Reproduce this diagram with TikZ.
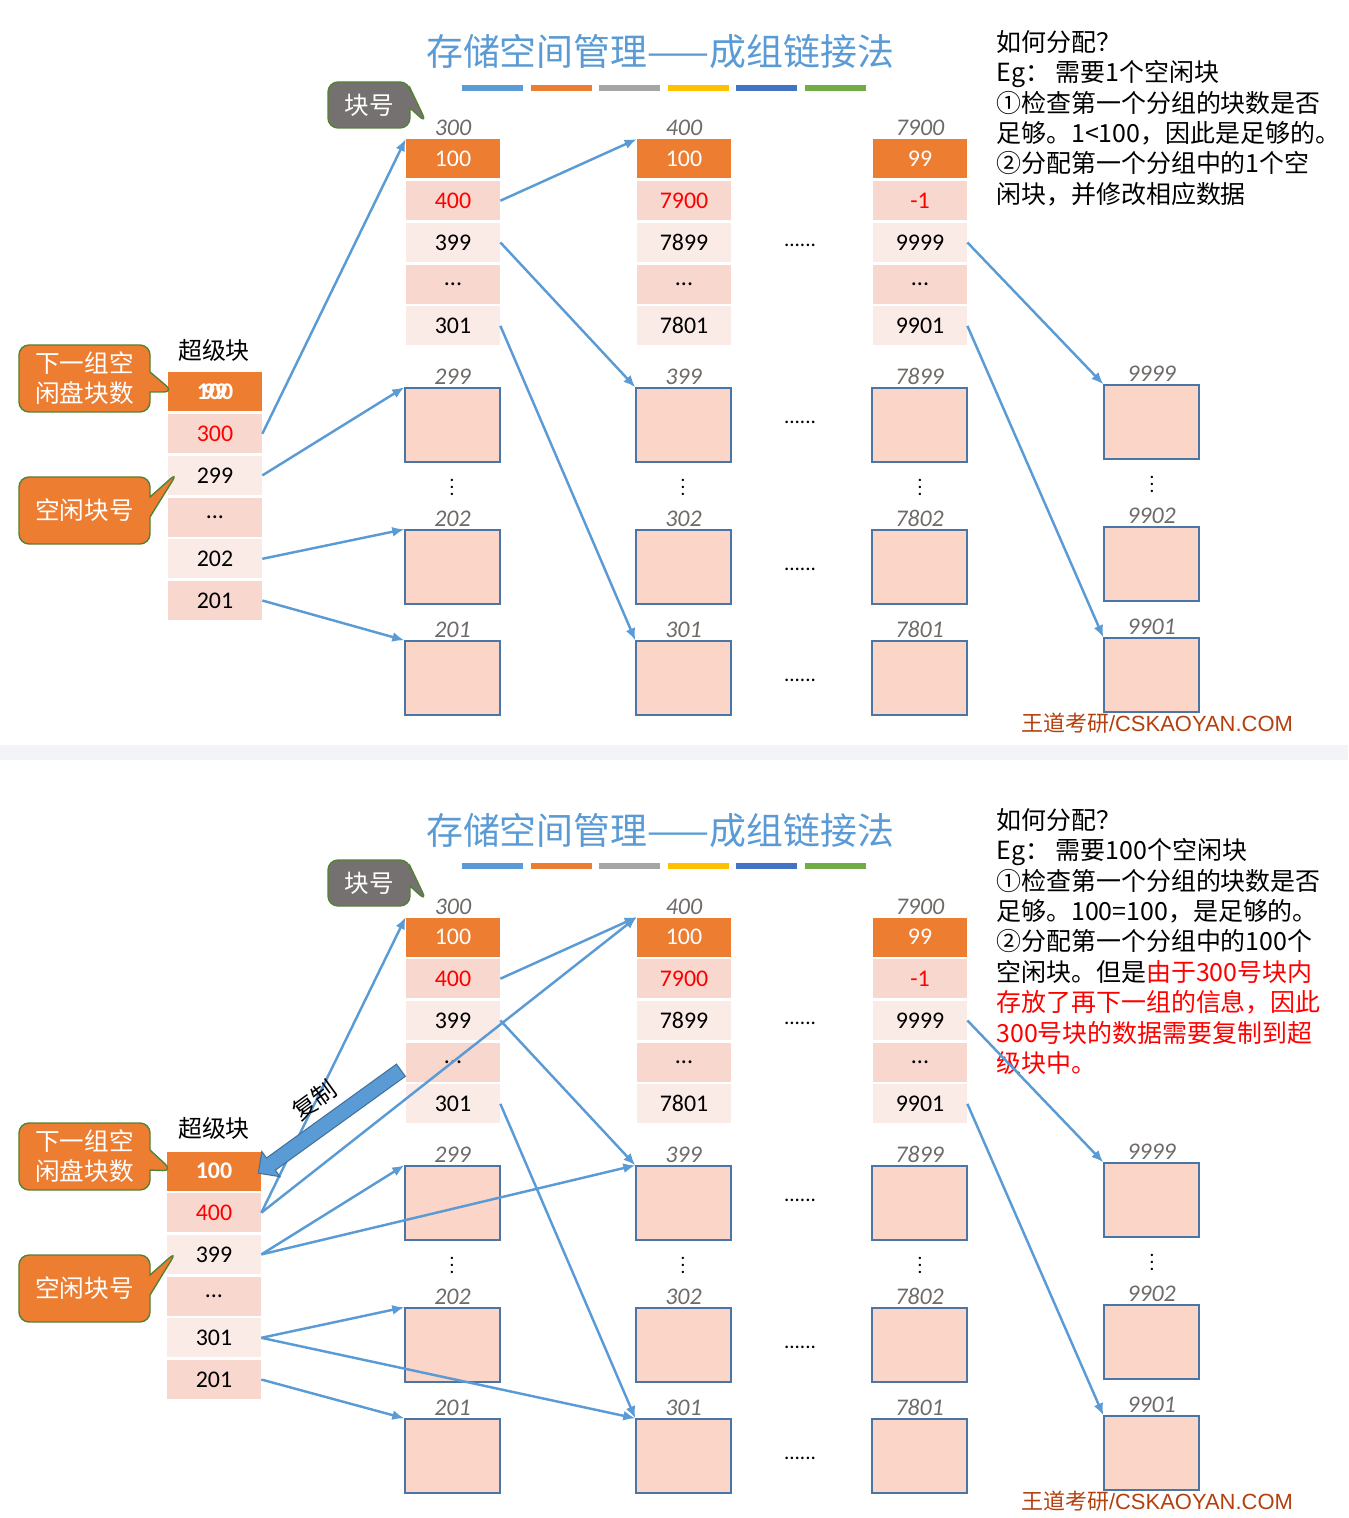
\documentclass[tikz,border=0pt]{standalone}
\usepackage{fontspec}
\setmainfont{Carlito}
\newfontfamily\cjk{Noto Sans CJK SC}
\newfontfamily\arialfont{Liberation Sans}
\usetikzlibrary{positioning, calc, arrows.meta, shapes.callouts, shapes.arrows}
\definecolor{HdrOrange} {HTML}{ED7D31}
\definecolor{CellDark}  {HTML}{F7D7CE}
\definecolor{CellLight} {HTML}{FBEBE7}
\definecolor{BlkFill}   {HTML}{FAD5C8}
\definecolor{BlkEdge}   {HTML}{4A76A6}
\definecolor{LinkBlue}  {HTML}{5B9BD5}
\definecolor{CopyEdge}  {HTML}{41719C}
\definecolor{LblGray}   {HTML}{6E6A68}
\definecolor{BarBlue}   {HTML}{5B9BD5}
\definecolor{BarOrange} {HTML}{ED7D31}
\definecolor{BarGray}   {HTML}{A5A5A5}
\definecolor{BarGold}   {HTML}{FFC000}
\definecolor{BarNavy}   {HTML}{4472C4}
\definecolor{BarGreen}  {HTML}{70AD47}
\definecolor{TipGray}   {HTML}{767171}
\definecolor{TipEdge}   {HTML}{548235}
\definecolor{MarkRed}   {HTML}{FF0000}
\definecolor{SiteRed}   {HTML}{B4400E}
\definecolor{BandGray}  {HTML}{F3F4F8}
\tikzset{
  every node/.style={font=\fontsize{13.6}{16}\selectfont},
  % table cells of a group block
  cell/.style={minimum width=18.8mm, minimum height=7.8mm, inner sep=0pt},
  hdrcell/.style  ={cell, fill=HdrOrange, text=white},
  darkcell/.style ={cell, fill=CellDark},
  lightcell/.style={cell, fill=CellLight},
  freeblk/.style={draw=BlkEdge, fill=BlkFill, line width=0.8pt,
                  minimum width=19mm, minimum height=14.8mm, inner sep=0pt},
  numlbl/.style={font=\fontsize{13.6}{16}\selectfont\itshape, text=LblGray, inner sep=1.5pt},
  vdot/.style={font=\fontsize{9}{10}\selectfont\bfseries, inner sep=0pt},
  gapdots/.style={font=\fontsize{12}{14}\selectfont},
  title/.style={font=\cjk\fontsize{21}{25}\selectfont, text=LinkBlue},
  link/.style={draw=LinkBlue, line width=1.4pt, -{Latex[length=2.4mm,width=2mm]}},
  tip/.style={rectangle callout, rounded corners=2mm, draw=TipEdge, line width=0.8pt,
              text=white, align=center, inner sep=1pt, callout pointer width=4mm,
              font=\cjk\fontsize{14}{17}\selectfont},
  note/.style={anchor=north west, align=left, inner sep=0pt,
               font=\cjk\fontsize{14.2}{17.3}\selectfont},
  copyarrow/.style={single arrow, draw=CopyEdge, fill=LinkBlue, line width=0.6pt,
                    inner xsep=0pt, inner ysep=1.4mm, single arrow head extend=1.6mm,
                    single arrow head indent=0pt},
}

% everything that both halves share
\newcommand{\grouppanel}[1]{%
  \node[title] (#1title) at (660,52) {存储空间管理——成组链接法};
  \foreach \barcol [count=\i from 0] in {BarBlue,BarOrange,BarGray,BarGold,BarNavy,BarGreen}
    \fill[\barcol] ({462+\i*68.6},85) rectangle ++(61,6);
  % group 300
  \node[hdrcell] (#1a1) at (453,159) {100};
  \node[darkcell,  below=0.4mm of #1a1, text=MarkRed] (#1a2) {400};
  \node[lightcell, below=0.4mm of #1a2] (#1a3) {399};
  \node[darkcell,  below=0.4mm of #1a3] (#1a4) {...};
  \node[lightcell, below=0.4mm of #1a4] (#1a5) {301};
  \node[numlbl, above=0pt of #1a1] (#1a0) {300};
  % group 400
  \node[hdrcell] (#1b1) at (684,159) {100};
  \node[darkcell,  below=0.4mm of #1b1, text=MarkRed] (#1b2) {7900};
  \node[lightcell, below=0.4mm of #1b2] (#1b3) {7899};
  \node[darkcell,  below=0.4mm of #1b3] (#1b4) {...};
  \node[lightcell, below=0.4mm of #1b4] (#1b5) {7801};
  \node[numlbl, above=0pt of #1b1] (#1b0) {400};
  % group 7900
  \node[hdrcell] (#1c1) at (920,159) {99};
  \node[darkcell,  below=0.4mm of #1c1, text=MarkRed] (#1c2) {-1};
  \node[lightcell, below=0.4mm of #1c2] (#1c3) {9999};
  \node[darkcell,  below=0.4mm of #1c3] (#1c4) {...};
  \node[lightcell, below=0.4mm of #1c4] (#1c5) {9901};
  \node[numlbl, above=0pt of #1c1] (#1c0) {7900};
  % free blocks
  \foreach \nm/\x/\y/\txt in {p1/452.5/425/299, p2/452.5/567/202, p3/452.5/678/201,
                              q1/683.5/425/399, q2/683.5/567/302, q3/683.5/678/301,
                              r1/919.5/425/7899, r2/919.5/567/7802, r3/919.5/678/7801,
                              u1/1151.5/422/9999, u2/1151.5/564/9902, u3/1151.5/675/9901}{
    \node[freeblk] (#1\nm) at (\x,\y) {};
    \node[numlbl, above=0pt of #1\nm] (#1\nm l) {\txt};
  }
  \node[vdot] (#1pv) at (452,482) {$\vdots$};
  \node[vdot] (#1qv) at (683,482) {$\vdots$};
  \node[vdot] (#1rv) at (920,482) {$\vdots$};
  \node[vdot] (#1uv) at (1152,479) {$\vdots$};
  \node[gapdots] (#1g1) at (800,245) {......};
  \node[gapdots] (#1g2) at (800,422) {......};
  \node[gapdots] (#1g3) at (800,569) {......};
  \node[gapdots] (#1g4) at (800,680) {......};
  \node[font=\fontsize{12.5}{15}\selectfont, text=SiteRed] (#1site) at (1157,723)
    {{\cjk 王道考研}{\arialfont /CSKAOYAN.COM}};
}

\begin{document}
\begin{tikzpicture}[x=0.2mm, y=-0.2mm]
\useasboundingbox (0,0) rectangle (1348,1518);

% ---- first half: one block wanted
\begin{scope}
\grouppanel{t-}
\node[font=\cjk\fontsize{13.6}{16}\selectfont] (t-sbl) at (214,350) {超级块};
\node[hdrcell, font=\fontsize{13.6}{16}\selectfont\bfseries] (t-s1) at (215,392)
  {\makebox[0pt]{100}\makebox[0pt]{99}};
\node[darkcell,  below=0.4mm of t-s1, text=MarkRed] (t-s2) {300};
\node[lightcell, below=0.4mm of t-s2] (t-s3) {299};
\node[darkcell,  below=0.4mm of t-s3] (t-s4) {...};
\node[lightcell, below=0.4mm of t-s4] (t-s5) {202};
\node[darkcell,  below=0.4mm of t-s5] (t-s6) {201};

\node[tip, fill=HdrOrange, minimum width=26.2mm, minimum height=13.4mm,
      callout absolute pointer={([xshift=1.2mm]t-s1.west)}] (t-next) at (84.5,378.5)
  {下一组空\\闲盘块数};
\node[tip, fill=HdrOrange, minimum width=26.2mm, minimum height=13.4mm,
      callout absolute pointer={([xshift=2mm,yshift=0.6mm]t-s3.west)}] (t-free) at (84.5,510.5)
  {空闲块号};
\node[tip, fill=TipGray, minimum width=16.4mm, minimum height=9.2mm,
      callout absolute pointer={([xshift=-1mm,yshift=1mm]t-a0.west)}] (t-blkno) at (369,105)
  {块号};

\node[note] (t-how) at (996,30) {如何分配？\\
Eg： 需要1个空闲块\\
①检查第一个分组的块数是否\\
足够。1<100，因此是足够的。\\
②分配第一个分组中的1个空\\
闲块，并修改相应数据};
\end{scope}

\fill[BandGray] (0,745) rectangle (1348,760);

% ---- second half: a hundred blocks wanted
\begin{scope}[shift={(0,778)}]
\grouppanel{b-}
\node[font=\cjk\fontsize{13.6}{16}\selectfont] (b-sbl) at (214,350) {超级块};
\node[hdrcell, font=\fontsize{13.6}{16}\selectfont\bfseries] (b-s1) at (214,393) {100};
\node[darkcell,  below=0.4mm of b-s1, text=MarkRed] (b-s2) {400};
\node[lightcell, below=0.4mm of b-s2] (b-s3) {399};
\node[darkcell,  below=0.4mm of b-s3] (b-s4) {...};
\node[lightcell, below=0.4mm of b-s4] (b-s5) {301};
\node[darkcell,  below=0.4mm of b-s5] (b-s6) {201};

\node[tip, fill=HdrOrange, minimum width=26.2mm, minimum height=13.4mm,
      callout absolute pointer={([xshift=1.2mm]b-s1.west)}] (b-next) at (84.5,378.5)
  {下一组空\\闲盘块数};
\node[tip, fill=HdrOrange, minimum width=26.2mm, minimum height=13.4mm,
      callout absolute pointer={([xshift=2mm,yshift=0.6mm]b-s3.west)}] (b-free) at (84.5,510.5)
  {空闲块号};
\node[tip, fill=TipGray, minimum width=16.4mm, minimum height=9.2mm,
      callout absolute pointer={([xshift=-1mm,yshift=1mm]b-a0.west)}] (b-blkno) at (369,105)
  {块号};

\node[note] (b-how) at (996,30) {如何分配？\\
Eg： 需要100个空闲块\\
①检查第一个分组的块数是否\\
足够。100=100，是足够的。\\
②分配第一个分组中的100个\\
空闲块。但是{\color{MarkRed}由于300号块内}\\
{\color{MarkRed}存放了再下一组的信息，因此}\\
{\color{MarkRed}300号块的数据需要复制到超}\\
{\color{MarkRed}级块中。}};
\end{scope}

% links, first half
\draw[link] (t-s2.east) -- (t-a1.north west);
\draw[link] (t-s3.east) -- (t-p1.north west);
\draw[link] (t-s5.east) -- (t-p2.north west);
\draw[link] (t-s6.east) -- (t-p3.north west);
\draw[link] (t-a2.east) -- (t-b1.north west);
\draw[link] (t-a3.east) -- (t-q1.north west);
\draw[link] (t-a5.east) -- (t-q3.north west);
\draw[link] (t-c3.east) -- (t-u1.north west);
\draw[link] (t-c5.east) -- (t-u3.north west);

% links, second half
\draw[link] (b-s2.east) -- (b-a1.north west);
\draw[link] (b-s2.east) -- (b-b1.north west);
\draw[link] (b-s3.east) -- (b-p1.north west);
\draw[link] (b-s3.east) -- (b-q1.north west);
\draw[link] (b-s5.east) -- (b-p2.north west);
\draw[link] (b-s5.east) -- (b-q3.north west);
\draw[link] (b-s6.east) -- (b-p3.north west);
\draw[link] (b-a2.east) -- (b-b1.north west);
\draw[link] (b-a3.east) -- (b-q1.north west);
\draw[link] (b-a5.east) -- (b-q3.north west);
\draw[link] (b-c3.east) -- (b-u1.north west);
\draw[link] (b-c5.east) -- (b-u3.north west);

% copy arrow into the super block
\coordinate (cpfrom) at (404,1068);
\path let \p1=($(b-s1.east)-(cpfrom)$), \n1={atan2(\y1,\x1)}, \n2={veclen(\x1,\y1)} in
  node[copyarrow, minimum height=\n2, rotate=\n1] (copy) at ($(cpfrom)!0.5!(b-s1.east)$) {};
\node[font=\cjk\fontsize{13.6}{16}\selectfont, rotate=36] (copylbl) at (314,1100) {复制};

\end{tikzpicture}
\end{document}
